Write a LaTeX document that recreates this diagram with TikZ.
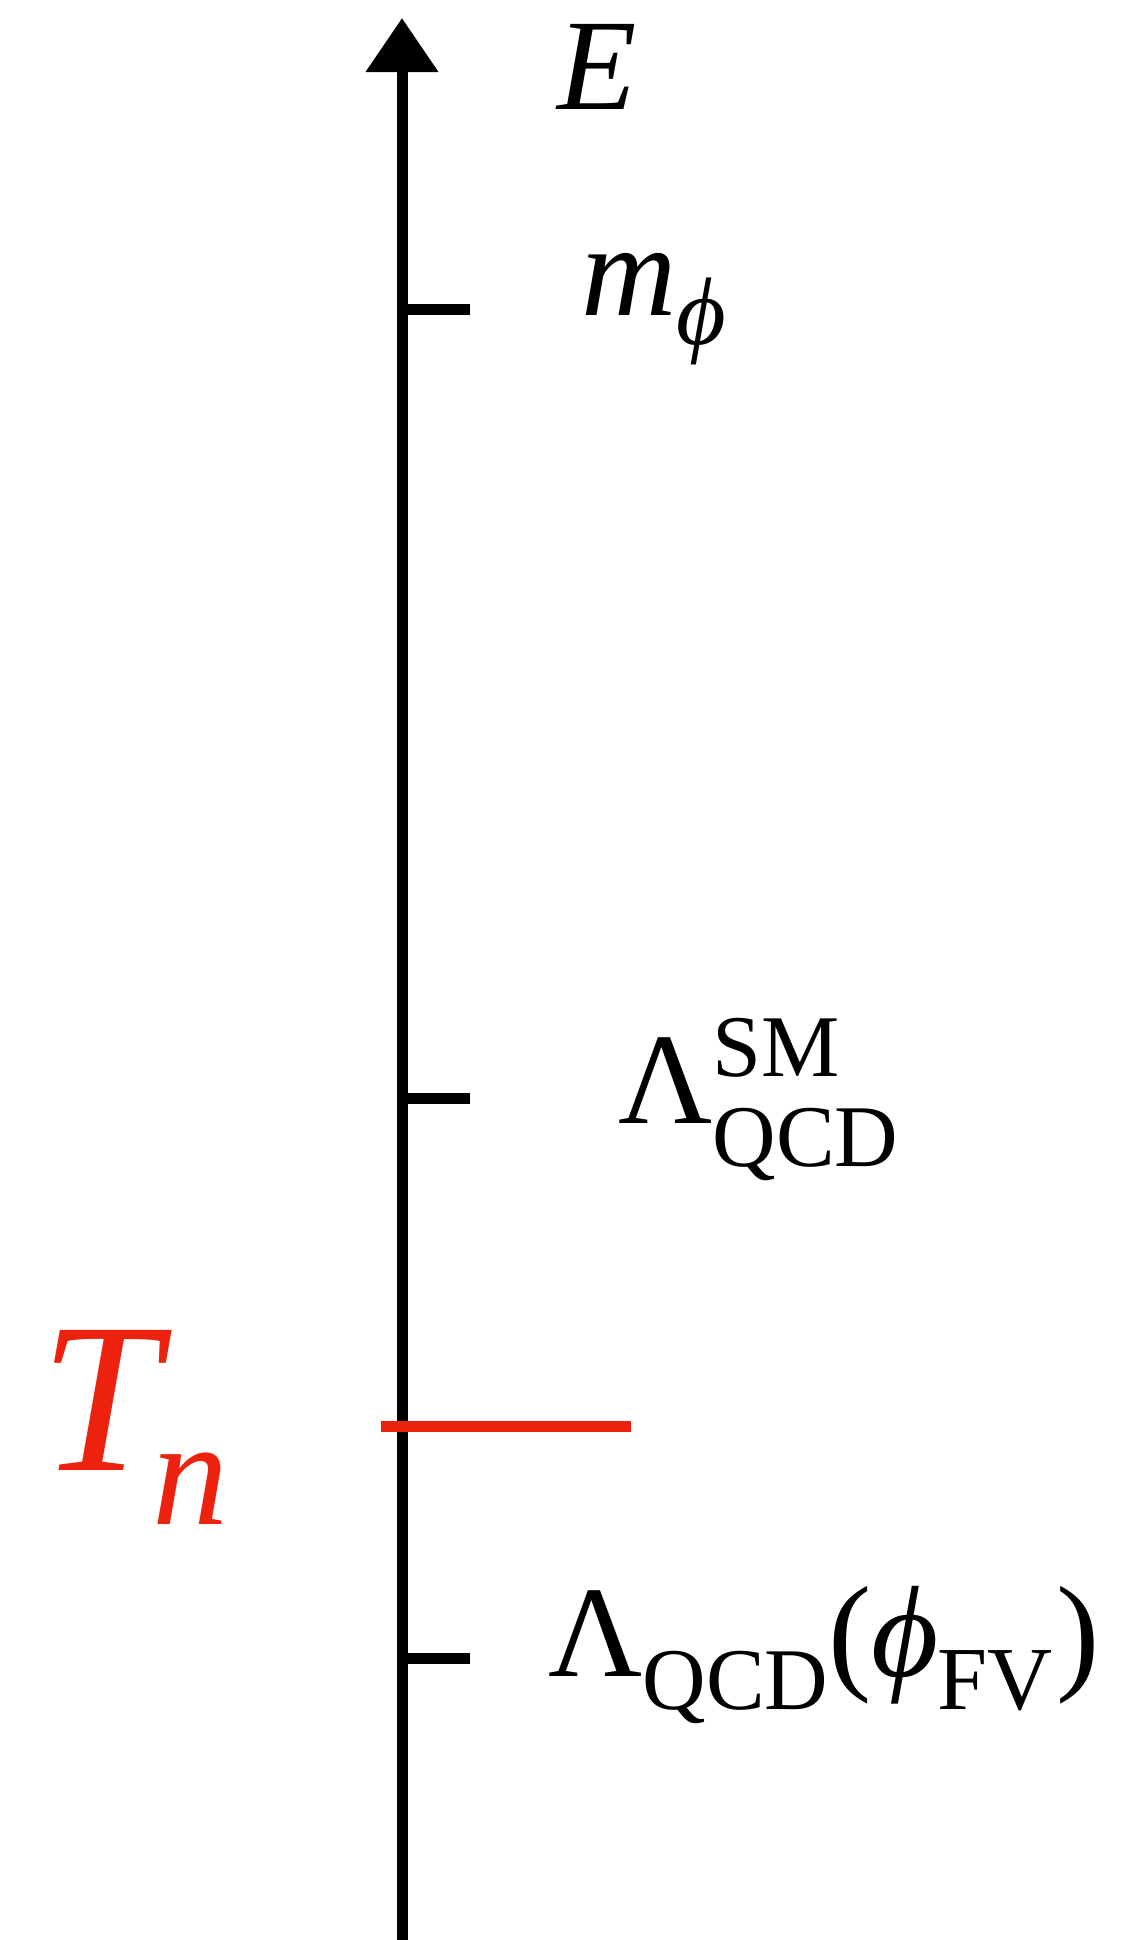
\documentclass[tikz,border=0pt]{standalone}
\usepackage{fontspec}
\setmainfont{Liberation Serif}
\usetikzlibrary{arrows.meta}
\definecolor{tnred}{RGB}{236,34,14}
\newcommand{\fsz}[1]{\fontsize{#1}{#1}\selectfont}
\begin{document}
\begin{tikzpicture}[x=0.5pt,y=-0.5pt,
  lbl/.style={inner sep=0pt, anchor=base west},
  axisline/.style={line width=5.5pt, black},
  tickline/.style={line width=5.5pt, black},
  redline/.style={line width=5.5pt, tnred}]
\useasboundingbox (0,0) rectangle (1132,1940);
% axis
\coordinate (axbot) at (402,1945);
\coordinate (axtop) at (402,18);
\draw[axisline, -{Triangle[width=35pt,length=27pt]}] (axbot) -- (axtop);
% ticks
\coordinate (t1) at (402,309);  \coordinate (t1e) at (470,309);
\coordinate (t2) at (402,1098); \coordinate (t2e) at (470,1098);
\coordinate (t3) at (402,1658); \coordinate (t3e) at (470,1658);
\draw[tickline] (t1) -- (t1e);
\draw[tickline] (t2) -- (t2e);
\draw[tickline] (t3) -- (t3e);
% red Tn line
\coordinate (r1) at (381,1426); \coordinate (r2) at (631,1426);
\draw[redline] (r1) -- (r2);
% labels
\node[lbl] (E) at (557,109) {\fsz{65pt}\textit{E}};
\node[lbl] (mphi) at (581,315) {\fsz{66pt}\textit{m}\raisebox{-14.5pt}{\fsz{48pt}\textit{\symbol{"03D5}}}};
\node[lbl] (LSM) at (618,1123) {\fsz{65pt}Λ\rlap{\raisebox{23.5pt}{\fsz{44pt}SM}}\raisebox{-21.5pt}{\fsz{44pt}QCD}};
\node[lbl, text=tnred] (Tn) at (40,1470) {\fsz{107pt}\textit{T}\kern-10pt\raisebox{-27pt}{\fsz{76pt}\textit{n}}};
\node[lbl] (LFV) at (548,1676) {\fsz{65pt}Λ\raisebox{-16.5pt}{\fsz{44pt}QCD}(\textit{\symbol{"03D5}}\kern-1pt\raisebox{-16.5pt}{\fsz{45pt}FV}\kern2pt)};
\end{tikzpicture}
\end{document}
